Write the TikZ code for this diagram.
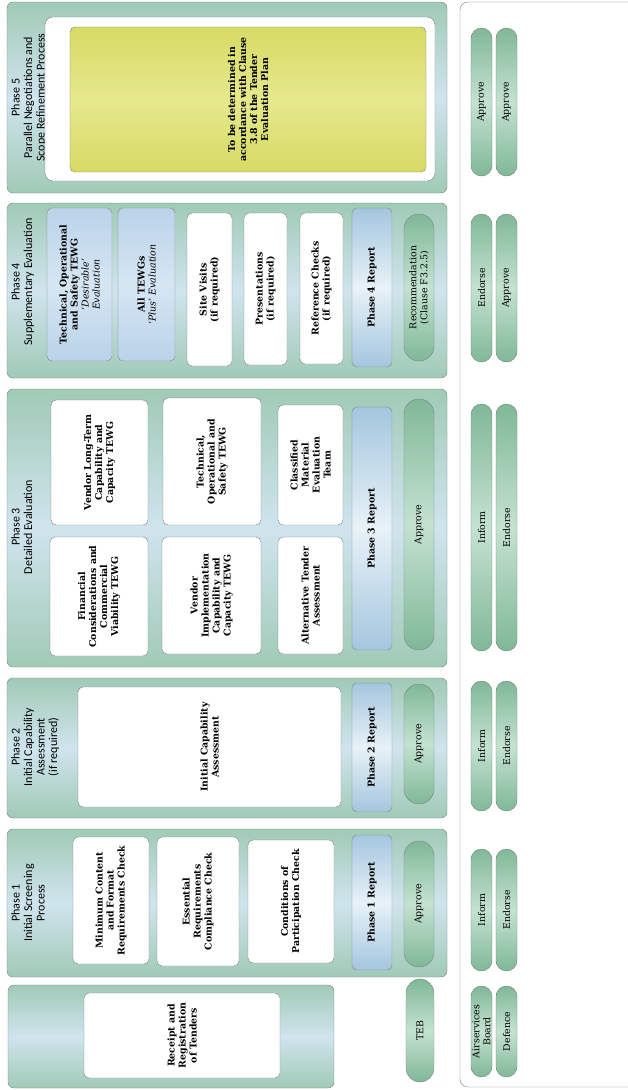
\documentclass[tikz,border=0pt]{standalone}
\usepackage{fontspec}
\setmainfont{DejaVu Serif}
\newfontfamily\titlefont{Carlito}
\usetikzlibrary{shapes.misc,positioning}
\definecolor{phgreen}{RGB}{160,202,182}
\definecolor{phblue}{RGB}{208,228,238}
\definecolor{pillgreen}{RGB}{128,184,152}
\definecolor{pilllight}{RGB}{196,226,208}
\definecolor{repblue}{RGB}{164,198,222}
\definecolor{replight}{RGB}{232,242,248}
\definecolor{tewgblue}{RGB}{186,211,233}
\definecolor{tewglight}{RGB}{214,230,243}
\definecolor{planyellow}{RGB}{214,219,100}
\definecolor{planlight}{RGB}{230,232,140}
\definecolor{edgegray}{RGB}{118,132,126}

\begin{document}
\begin{tikzpicture}[x=1pt,y=-1pt]
\tikzstyle{phase}=[rectangle,rotate=90,rounded corners=6pt,draw=edgegray,
inner sep=0pt,minimum height=440pt,
top color=phgreen,bottom color=phgreen,middle color=phblue]
\tikzstyle{phasetitle}=[rotate=90,anchor=north,align=center,inner sep=2pt,
font=\titlefont\fontsize{12}{12.5}\selectfont]
\tikzstyle{task}=[rectangle,rotate=90,rounded corners=5pt,draw=edgegray,
fill=white,inner sep=1pt,align=center,font=\bfseries\fontsize{9.4}{11}\selectfont]
\tikzstyle{tewg}=[task,top color=tewgblue,bottom color=tewgblue,middle color=tewglight]
\tikzstyle{report}=[task,minimum height=40pt,
top color=repblue,bottom color=repblue,middle color=replight]
\tikzstyle{pill}=[rounded rectangle,rotate=90,draw=edgegray,inner sep=1pt,
align=center,font=\fontsize{9.4}{11}\selectfont,
top color=pillgreen,bottom color=pillgreen,middle color=pilllight]

\fill[white] (0,0) rectangle (628,1090);
\useasboundingbox (0,0) rectangle (628,1090);

\node[rectangle,rotate=90,rounded corners=8pt,draw=edgegray,fill=white,
minimum width=1085pt,minimum height=176pt] at (548,544.5) (board) {};

\node[phase,minimum width=191pt] at (227,97.5) (ph5) {};
\node[phase,minimum width=175pt] at (227,290.5) (ph4) {};
\node[phase,minimum width=278pt] at (227,528) (ph3) {};
\node[phase,minimum width=140pt] at (227,748) (ph2) {};
\node[phase,minimum width=148pt] at (227,903) (ph1) {};
\node[phase,minimum width=103pt,minimum height=326pt] at (171,1036.5) (recv) {};

\node[phasetitle] at (9,97.5) (ph5t) {Phase 5\\Parallel Negotiations and\\Scope Refinement Process};
\node[phasetitle] at (9,282) (ph4t) {Phase 4\\Supplementary Evaluation};
\node[phasetitle] at (9,527) (ph3t) {Phase 3\\Detailed Evaluation};
\node[phasetitle] at (9,747) (ph2t) {Phase 2\\Initial Capability\\Assessment\\(if required)};
\node[phasetitle] at (9,903) (ph1t) {Phase 1\\Initial Screening\\Process};

\node[task,rounded corners=8pt,minimum width=164pt,minimum height=390pt] at (240,99) (p5w) {};
\node[task,minimum width=145pt,minimum height=356pt,
top color=planyellow,bottom color=planyellow,middle color=planlight] at (248,99.5) (p5y)
{To be determined in\\accordance with Clause\\3.8 of the Tender\\Evaluation Plan};

\node[tewg,minimum width=153pt,minimum height=65pt] at (79.5,284.5) (p4a)
{Technical, Operational\\and Safety TEWG\\{\mdseries\itshape `Desirable'}\\{\mdseries\itshape Evaluation}};
\node[tewg,minimum width=153pt,minimum height=57pt] at (146.5,284.5) (p4b)
{All TEWGs\\{\mdseries\itshape `Plus' Evaluation}};
\node[task,minimum width=153pt,minimum height=45pt] at (209.5,289.5) (p4c) {Site Visits\\(if required)};
\node[task,minimum width=152pt,minimum height=43pt] at (265.5,289) (p4d) {Presentations\\(if required)};
\node[task,minimum width=151pt,minimum height=43pt] at (321.5,288.5) (p4e) {Reference Checks\\(if required)};
\node[report,minimum width=159pt] at (372,287.5) (p4r) {Phase 4 Report};
\node[pill,minimum width=149pt,minimum height=30pt] at (419,287.5) (p4p) {Recommendation\\(Clause F3.2.5)};

\node[task,minimum width=125pt,minimum height=97pt] at (99.5,462.5) (p3a) {Vendor Long-Term\\Capability and\\Capacity TEWG};
\node[task,minimum width=127pt,minimum height=98pt] at (212,461.5) (p3b) {Technical,\\Operational and\\Safety TEWG};
\node[task,minimum width=120pt,minimum height=65pt] at (310.5,465) (p3c) {Classified\\Material\\Evaluation\\Team};
\node[task,minimum width=119pt,minimum height=98pt] at (99,596.5) (p3d) {Financial\\Considerations and\\Commercial\\Viability TEWG};
\node[task,minimum width=117pt,minimum height=99pt] at (211.5,595.5) (p3e) {Vendor\\Implementation\\Capability and\\Capacity TEWG};
\node[task,minimum width=117pt,minimum height=65pt] at (310.5,595.5) (p3f) {Alternative Tender\\Assessment};
\node[report,minimum width=243pt] at (372,528.5) (p3r) {Phase 3 Report};
\node[pill,minimum width=253pt,minimum height=30pt] at (419,524.5) (p3p) {Approve};

\node[task,minimum width=120pt,minimum height=263pt] at (209.5,747) (p2a) {Initial Capability\\Assessment};
\node[report,minimum width=129pt] at (372,747.5) (p2r) {Phase 2 Report};
\node[pill,minimum width=122pt,minimum height=30pt] at (419,744) (p2p) {Approve};

\node[task,minimum width=127pt,minimum height=76pt] at (111,900.5) (p1a) {Minimum Content\\and Format\\Requirements Check};
\node[task,minimum width=129pt,minimum height=82pt] at (198,901.5) (p1b) {Essential\\Requirements\\Compliance Check};
\node[task,minimum width=123pt,minimum height=86pt] at (291,901.5) (p1c) {Conditions of\\Participation Check};
\node[report,minimum width=135pt] at (372,902.5) (p1r) {Phase 1 Report};
\node[pill,minimum width=128pt,minimum height=30pt] at (419,904) (p1p) {Approve};

\node[task,minimum width=85pt,minimum height=196pt] at (182,1035.5) (recvt) {Receipt and\\Registration\\of Tenders};
\node[pill,minimum width=105pt,minimum height=28pt] at (420,1030.5) (teb) {TEB};

\node[pill,minimum width=150pt,minimum height=21pt] at (481.5,102) (asb5) {Approve};
\node[pill,minimum width=150pt,minimum height=21pt] at (506.5,102) (def5) {Approve};
\node[pill,minimum width=150pt,minimum height=21pt] at (481.5,288) (asb4) {Endorse};
\node[pill,minimum width=150pt,minimum height=21pt] at (506.5,288) (def4) {Approve};
\node[pill,minimum width=249pt,minimum height=21pt] at (481.5,527.5) (asb3) {Inform};
\node[pill,minimum width=249pt,minimum height=21pt] at (506.5,527.5) (def3) {Endorse};
\node[pill,minimum width=132pt,minimum height=21pt] at (481.5,746) (asb2) {Inform};
\node[pill,minimum width=132pt,minimum height=21pt] at (506.5,746) (def2) {Endorse};
\node[pill,minimum width=124pt,minimum height=21pt] at (481.5,910) (asb1) {Inform};
\node[pill,minimum width=124pt,minimum height=21pt] at (506.5,910) (def1) {Endorse};
\node[pill,minimum width=93pt,minimum height=21pt] at (481.5,1031.5) (asb) {Airservices\\Board};
\node[pill,minimum width=93pt,minimum height=21pt] at (506.5,1031.5) (def) {Defence};

\end{tikzpicture}
\end{document}
